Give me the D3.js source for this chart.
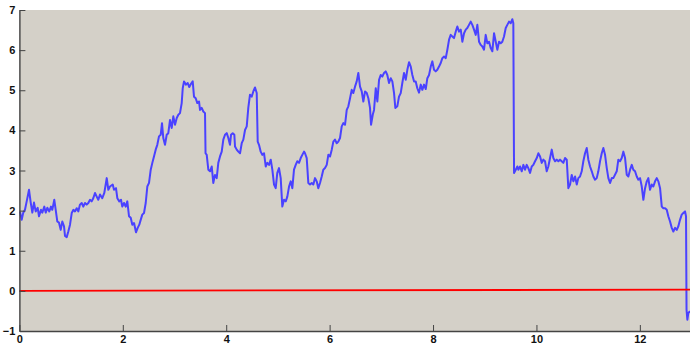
<!DOCTYPE html>
<html>
<head>
<meta charset="utf-8" />
<title>Series</title>
<script src="https://cdn.jsdelivr.net/npm/d3@7"></script>
<style>
body { margin: 0; background: #fff; }
.axis text { font-family: "Liberation Sans", Arial, sans-serif; font-weight: bold; font-size: 11px; fill: #111; }
.axis path, .axis line { stroke: #444; }
</style>
</head>
<body>
<div id="chart"></div>
<script>
// values (x in units, y in units)
const xs = [0.012,0.044,0.075,0.108,0.141,0.186,0.219,0.250,0.282,0.315,0.354,0.379,0.418,0.443,0.482,0.509,0.540,0.578,0.611,0.636,0.675,0.702,0.733,0.766,0.799,0.830,0.863,0.882,0.915,0.946,0.979,1.012,1.043,1.075,1.108,1.139,1.172,1.205,1.236,1.269,1.302,1.333,1.366,1.398,1.429,1.462,1.495,1.526,1.559,1.603,1.642,1.689,1.720,
1.752,1.805,1.830,1.868,1.894,1.932,1.965,1.990,2.023,2.056,2.087,2.120,2.153,2.184,2.217,2.255,2.288,2.319,2.346,2.377,2.410,2.443,2.474,2.507,2.540,2.571,2.603,2.636,2.667,2.700,2.733,2.758,2.783,2.816,2.849,2.880,2.913,2.946,2.977,3.010,3.043,3.074,3.106,3.139,3.159,3.184,3.222,3.255,3.286,3.319,3.352,3.377,3.410,3.441,3.474,3.493,3.526,3.557,3.590,3.600,3.623,3.654,3.687,3.720,3.750,3.783,3.816,3.847,3.880,3.913,3.944,3.977,4.010,4.041,4.073,4.093,4.126,4.157,4.170,4.203,4.234,4.267,4.300,4.331,4.364,4.397,4.427,4.460,4.493,4.524,4.557,4.590,4.609,4.634,4.667,4.698,4.731,4.764,4.795,4.828,4.861,4.892,4.925,4.957,4.988,5.021,5.054,5.085,5.118,5.151,5.182,5.215,5.248,5.279,5.311,5.344,5.375,5.408,5.441,5.472,5.505,
5.524,5.557,5.588,5.621,5.654,5.685,5.718,5.750,5.781,5.814,5.847,5.878,5.911,5.944,5.975,6.008,6.041,6.072,6.104,6.137,6.168,6.201,6.234,6.265,6.298,6.331,6.362,6.395,6.427,6.458,6.491,6.524,6.555,6.588,6.621,6.652,6.685,6.718,6.749,6.781,6.801,6.834,6.859,6.892,6.923,6.956,6.988,7.019,7.052,7.085,7.116,7.149,7.182,7.213,7.246,7.271,7.309,7.342,7.375,7.406,7.439,
7.472,7.503,7.536,7.569,7.600,7.633,7.665,7.696,7.729,7.762,7.793,7.826,7.859,7.890,7.923,7.956,7.987,8.019,8.052,8.083,8.116,8.149,8.180,8.213,8.246,8.277,8.310,8.342,8.373,8.406,8.439,8.470,8.503,8.536,8.567,8.600,8.633,8.663,8.696,8.729,8.760,8.793,8.826,8.857,8.890,8.923,8.954,8.986,9.019,9.050,9.083,9.116,9.147,9.180,9.213,9.244,9.277,9.309,9.340,9.373,9.406,9.437,9.470,9.503,9.534,9.553,9.567,9.600,9.631,
9.650,9.683,9.716,9.747,9.779,9.812,9.843,9.876,9.909,9.940,9.973,10.006,10.037,10.070,10.103,10.133,10.166,10.199,10.230,10.263,10.296,10.327,10.360,10.393,10.424,10.456,10.489,10.520,10.553,10.586,10.617,10.650,10.683,10.714,10.747,10.780,10.810,10.843,10.876,10.907,10.940,10.973,11.004,11.037,11.070,11.101,11.133,11.166,11.197,11.230,11.263,11.294,11.327,11.360,11.391,11.424,11.457,11.487,11.553,11.584,11.617,11.650,11.681,11.714,11.747,11.778,11.811,11.844,11.874,11.907,11.940,11.971,12.004,12.037,12.068,12.101,12.134,12.164,12.197,12.230,12.261,12.294,12.327,12.358,12.391,12.424,12.455,12.488,12.520,12.551,12.584,12.617,12.648,12.681,12.714,12.745,12.777,12.810,12.841,12.874,12.893,12.903,12.919,12.938,12.971];

const ys = [1.97,1.77,1.95,2.02,2.23,2.52,2.20,1.95,2.20,1.98,2.07,1.86,2.02,1.95,2.10,1.95,2.07,1.98,2.10,2.02,2.27,2.02,1.73,1.70,1.52,1.73,1.61,1.37,1.34,1.48,1.65,1.94,2.02,1.98,2.06,1.98,2.15,2.19,2.10,2.19,2.15,2.19,2.27,2.23,2.31,2.44,2.35,2.27,2.40,2.31,2.44,2.81,2.52,
2.60,2.65,2.52,2.56,2.31,2.23,2.27,2.10,2.19,2.10,2.23,1.86,1.82,1.65,1.69,1.46,1.57,1.65,1.77,1.90,1.94,2.19,2.60,2.69,3.02,3.19,3.35,3.52,3.64,3.85,3.89,4.18,3.81,3.64,3.89,3.93,4.26,4.06,4.35,4.14,4.31,4.39,4.43,4.68,5.05,5.22,5.14,5.18,5.08,5.16,5.22,4.84,4.80,4.68,4.72,4.51,4.56,4.47,4.43,3.43,3.39,3.02,2.98,3.10,2.69,2.89,2.81,3.19,3.35,3.47,3.77,3.89,3.93,3.81,3.64,3.89,3.93,3.89,3.60,3.52,3.47,3.43,3.68,3.77,4.01,4.10,4.56,4.89,4.84,4.97,5.07,4.93,3.72,3.64,3.47,3.39,3.43,3.10,3.19,3.14,3.27,3.02,2.65,2.56,2.94,3.06,2.81,2.10,2.27,2.23,2.35,2.60,2.73,2.56,3.02,3.14,3.23,3.19,3.31,3.39,3.47,
3.43,3.31,2.69,2.65,2.69,2.65,2.81,2.73,2.56,2.69,2.85,3.02,3.06,3.14,3.39,3.35,3.52,3.72,3.77,3.68,3.72,3.81,4.10,4.18,4.14,4.51,4.60,4.80,5.01,4.93,5.09,5.22,5.43,5.09,4.97,4.72,4.97,4.93,4.80,4.56,4.14,4.39,4.51,5.05,4.72,5.26,5.38,5.34,5.43,5.47,5.38,5.18,5.30,5.22,4.93,4.56,4.60,4.84,4.93,5.18,5.43,
5.26,5.51,5.70,5.59,5.38,5.22,5.22,5.05,4.94,5.14,5.01,5.14,5.03,5.30,5.38,5.59,5.72,5.51,5.47,5.51,5.59,5.68,5.80,5.84,5.80,6.01,6.26,6.38,6.34,6.30,6.46,6.59,6.46,6.51,6.21,6.42,6.51,6.55,6.63,6.71,6.63,6.51,6.38,6.63,6.21,6.13,6.09,6.01,6.38,6.17,6.21,6.05,5.97,6.42,6.21,6.01,6.21,6.17,6.21,6.34,6.55,6.63,6.71,6.67,6.77,6.67,2.94,3.02,3.10,
3.02,3.10,2.98,3.14,3.02,3.14,3.06,2.94,3.10,3.14,3.23,3.31,3.43,3.35,3.19,3.27,3.23,2.98,3.10,3.31,3.52,3.31,3.23,3.27,3.23,3.27,3.23,3.19,3.31,3.27,2.56,2.65,2.89,2.73,2.85,2.65,2.81,2.85,2.98,3.23,3.43,3.56,3.27,3.10,2.98,2.85,2.77,2.81,2.98,3.23,3.43,3.56,3.39,3.06,2.81,2.69,2.81,2.81,2.98,3.27,3.23,3.31,3.47,3.31,2.89,2.85,3.02,3.14,3.02,2.98,2.85,2.77,2.81,2.60,2.27,2.56,2.73,2.81,2.52,2.65,2.60,2.73,2.81,2.73,2.56,2.10,2.06,2.06,2.02,1.86,1.73,1.57,1.48,1.57,1.52,1.61,1.77,1.90,1.94,1.98,1.86,-0.47,-0.72,-0.55,-0.51];

// reference line at zero
const refX = [0, 12.97];
const refY = [0, 0.03];

const xTicks = [0, 2, 4, 6, 8, 10, 12];
const yTicks = [-1, 0, 1, 2, 3, 4, 5, 6, 7];

const width = 690, height = 346;
const margin = {top: 10, right: 0, bottom: 15, left: 19.4};

const svg = d3.select("#chart").append("svg")
	.attr("width", width)
	.attr("height", height);

const x = d3.scaleLinear().domain([0, 12.97]).range([margin.left, width - margin.right]);
const y = d3.scaleLinear().domain([-1, 7]).range([height - margin.bottom, margin.top]);

svg.append("rect")
	.attr("x", x(0)).attr("y", y(7))
	.attr("width", x(12.97) - x(0))
	.attr("height", y(-1) - y(7))
	.attr("fill", "#d4d0c8");

const line = d3.line().x(d => x(d[0])).y(d => y(d[1]));

svg.append("path")
	.datum(xs.map((v, i) => [v, ys[i]]))
	.attr("d", line)
	.attr("fill", "none")
	.attr("stroke", "#4a42ff")
	.attr("stroke-width", 2)
	.attr("stroke-linejoin", "round");

svg.append("path")
	.datum(refX.map((v, i) => [v, refY[i]]))
	.attr("d", line)
	.attr("fill", "none")
	.attr("stroke", "#ff0000")
	.attr("stroke-width", 1.8);

svg.append("g")
	.attr("class", "axis")
	.attr("transform", "translate(0," + y(-1) + ")")
	.call(d3.axisBottom(x).tickValues(xTicks).tickSize(-6).tickSizeOuter(0).tickFormat(d3.format("d")))
	.call(g => g.select(".domain").attr("stroke-width", 1.4))
	.call(g => g.selectAll("text").attr("y", 4));

svg.append("g")
	.attr("class", "axis")
	.attr("transform", "translate(" + x(0) + ",0)")
	.call(d3.axisLeft(y).tickValues(yTicks).tickSize(-6).tickSizeOuter(0).tickFormat(d3.format("d")))
	.call(g => g.select(".domain").attr("stroke-width", 1.4))
	.call(g => g.selectAll("text").attr("x", -4));
</script>
</body>
</html>
